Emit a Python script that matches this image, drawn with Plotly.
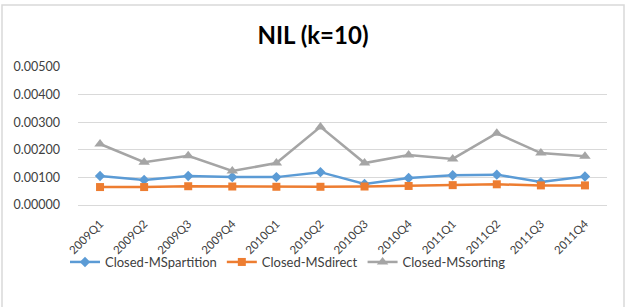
import plotly.graph_objects as go

categories = ["2009Q1", "2009Q2", "2009Q3", "2009Q4", "2010Q1", "2010Q2",
              "2010Q3", "2010Q4", "2011Q1", "2011Q2", "2011Q3", "2011Q4"]
ms_partition = [0.00105, 0.00091, 0.00105, 0.00101, 0.00101, 0.00119,
                0.00076, 0.00098, 0.00108, 0.00110, 0.00083, 0.00103]
ms_direct = [0.00065, 0.00065, 0.00068, 0.00067, 0.00066, 0.00066,
             0.00067, 0.00069, 0.00072, 0.00075, 0.00071, 0.00071]
ms_sorting = [0.00221, 0.00155, 0.00178, 0.00123, 0.00152, 0.00283,
              0.00152, 0.00181, 0.00167, 0.00260, 0.00188, 0.00177]
y_ticks = [0, 0.001, 0.002, 0.003, 0.004, 0.005]

W, H = 635, 307
L, R, T, B = 78, 28, 67, 102
pw, ph = W - L - R, H - T - B

fig = go.Figure()
fig.add_trace(go.Scatter(x=categories, y=ms_partition, name="Closed-MSpartition",
                         mode="lines+markers",
                         line=dict(color="#5B9BD5", width=2.5),
                         marker=dict(symbol="diamond", size=8, color="#5B9BD5")))
fig.add_trace(go.Scatter(x=categories, y=ms_direct, name="Closed-MSdirect",
                         mode="lines+markers",
                         line=dict(color="#ED7D31", width=2.5),
                         marker=dict(symbol="square", size=8, color="#ED7D31")))
fig.add_trace(go.Scatter(x=categories, y=ms_sorting, name="Closed-MSsorting",
                         mode="lines+markers",
                         line=dict(color="#A5A5A5", width=2.5),
                         marker=dict(symbol="triangle-up", size=10, color="#A5A5A5")))

fig.update_layout(
    width=W, height=H,
    margin=dict(l=L, r=R, t=T, b=B),
    paper_bgcolor="white", plot_bgcolor="white",
    font=dict(family="Lato, Open Sans, sans-serif", size=13, color="#404040"),
    title=dict(text="<b>NIL (k=10)</b>", xref="paper", x=(313 - L) / pw,
               xanchor="center", y=1 - 35.5 / H, yanchor="middle",
               font=dict(size=24, color="#000000", family="Lato, sans-serif")),
    xaxis=dict(type="category", tickangle=-45, showgrid=False, showline=False,
               ticks="", tickfont=dict(size=11.5, color="#404040"),
               ticklabelstandoff=9,
               range=[-0.5, len(categories) - 0.5]),
    yaxis=dict(range=[0, 0.005], tickvals=y_ticks, tickformat=".5f",
               showgrid=True, gridcolor="#D9D9D9", gridwidth=1,
               zeroline=True, zerolinecolor="#D9D9D9", zerolinewidth=1,
               showline=False, ticks="", ticklabelstandoff=17,
               tickfont=dict(size=12.5, color="#404040")),
    legend=dict(orientation="h", x=(65 - L) / pw, xanchor="left",
                y=(205 - 262) / ph, yanchor="middle",
                bgcolor="rgba(0,0,0,0)",
                font=dict(size=13, color="#404040"),
                itemwidth=30, tracegroupgap=0),
    showlegend=True,
)

fig.add_shape(type="rect", xref="paper", yref="paper",
              x0=(2 - L) / pw, x1=(624 - L) / pw,
              y0=(205 - 320) / ph, y1=(205 - 5) / ph,
              line=dict(color="#D9D9D9", width=1.5), layer="below")

fig.write_html("out.html")
